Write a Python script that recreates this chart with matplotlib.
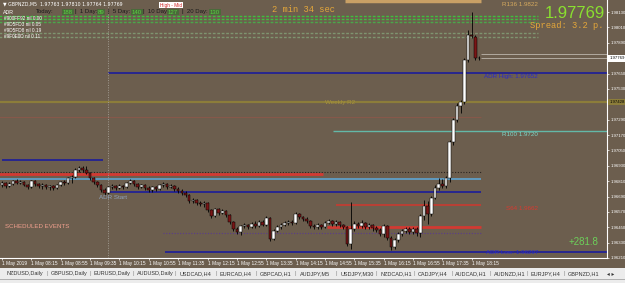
import matplotlib
matplotlib.use("Agg")
import matplotlib.pyplot as plt
import matplotlib.transforms as mtransforms
from matplotlib.patches import Rectangle

BG = '#6c5e4e'
W, H = 625, 283

# --- GBPNZD M5 candles, 1 May 2019 07:35 .. 18:25 ---
opens = [1.96781, 1.96797, 1.96773, 1.96789, 1.96812, 1.96797, 1.96804, 1.96781, 1.96765, 1.96812,
         1.96789, 1.96773, 1.96781, 1.96765, 1.96773, 1.96758, 1.96781, 1.96804, 1.96797, 1.96836,
         1.96843, 1.96898, 1.96914, 1.96898, 1.96875, 1.96836, 1.96804, 1.96781, 1.96742, 1.96718,
         1.96765, 1.96773, 1.96758, 1.96773, 1.96765, 1.96797, 1.96812, 1.96789, 1.96765, 1.96781,
         1.96758, 1.96742, 1.96765, 1.96750, 1.96781, 1.96789, 1.96765, 1.96773, 1.96750, 1.96734,
         1.96718, 1.96703, 1.96656, 1.96664, 1.96640, 1.96633, 1.96640, 1.96586, 1.96539, 1.96594,
         1.96563, 1.96578, 1.96547, 1.96492, 1.96438, 1.96414, 1.96461, 1.96469, 1.96453, 1.96477,
         1.96461, 1.96492, 1.96469, 1.96524, 1.96360, 1.96422, 1.96453, 1.96469, 1.96485, 1.96492,
         1.96485, 1.96555, 1.96531, 1.96516, 1.96500, 1.96461, 1.96453, 1.96469, 1.96453, 1.96485,
         1.96500, 1.96477, 1.96492, 1.96469, 1.96453, 1.96321, 1.96438, 1.96477, 1.96461, 1.96485,
         1.96453, 1.96469, 1.96446, 1.96430, 1.96399, 1.96461, 1.96368, 1.96297, 1.96352, 1.96399,
         1.96422, 1.96438, 1.96414, 1.96438, 1.96407, 1.96539, 1.96617, 1.96555, 1.96680, 1.96758,
         1.96789, 1.96773, 1.96836, 1.97116, 1.97288, 1.97397, 1.97428, 1.97756, 1.97951, 1.97935,
         1.97772]
highs = [1.96812, 1.96804, 1.96804, 1.96820, 1.96828, 1.96820, 1.96812, 1.96789, 1.96820, 1.96820,
         1.96797, 1.96797, 1.96789, 1.96781, 1.96781, 1.96789, 1.96812, 1.96820, 1.96843, 1.96859,
         1.96914, 1.96929, 1.96929, 1.96929, 1.96882, 1.96843, 1.96812, 1.96789, 1.96758, 1.96773,
         1.96789, 1.96781, 1.96789, 1.96781, 1.96804, 1.96828, 1.96820, 1.96797, 1.96789, 1.96789,
         1.96773, 1.96773, 1.96773, 1.96789, 1.96804, 1.96797, 1.96789, 1.96781, 1.96765, 1.96750,
         1.96734, 1.96711, 1.96680, 1.96672, 1.96656, 1.96656, 1.96648, 1.96594, 1.96602, 1.96602,
         1.96594, 1.96586, 1.96555, 1.96500, 1.96453, 1.96469, 1.96485, 1.96477, 1.96492, 1.96500,
         1.96508, 1.96508, 1.96539, 1.96531, 1.96438, 1.96469, 1.96485, 1.96500, 1.96508, 1.96508,
         1.96570, 1.96563, 1.96539, 1.96531, 1.96508, 1.96477, 1.96485, 1.96477, 1.96500, 1.96516,
         1.96508, 1.96508, 1.96500, 1.96477, 1.96461, 1.96648, 1.96500, 1.96492, 1.96508, 1.96492,
         1.96485, 1.96477, 1.96461, 1.96446, 1.96477, 1.96469, 1.96383, 1.96368, 1.96414, 1.96438,
         1.96453, 1.96453, 1.96453, 1.96453, 1.96555, 1.96664, 1.96656, 1.96695, 1.96781, 1.96836,
         1.96828, 1.96851, 1.97132, 1.97304, 1.97420, 1.97444, 1.97772, 1.97990, 1.98130, 1.97951,
         1.97787]
lows = [1.96765, 1.96758, 1.96765, 1.96781, 1.96789, 1.96789, 1.96773, 1.96750, 1.96758, 1.96773,
        1.96758, 1.96750, 1.96750, 1.96742, 1.96742, 1.96750, 1.96773, 1.96781, 1.96789, 1.96797,
        1.96836, 1.96882, 1.96882, 1.96867, 1.96820, 1.96789, 1.96765, 1.96726, 1.96703, 1.96711,
        1.96750, 1.96742, 1.96750, 1.96750, 1.96758, 1.96789, 1.96773, 1.96750, 1.96758, 1.96742,
        1.96726, 1.96726, 1.96734, 1.96742, 1.96765, 1.96750, 1.96758, 1.96734, 1.96718, 1.96703,
        1.96687, 1.96640, 1.96640, 1.96625, 1.96617, 1.96609, 1.96570, 1.96524, 1.96531, 1.96547,
        1.96555, 1.96531, 1.96477, 1.96422, 1.96399, 1.96391, 1.96446, 1.96438, 1.96446, 1.96446,
        1.96453, 1.96461, 1.96461, 1.96344, 1.96352, 1.96414, 1.96438, 1.96461, 1.96469, 1.96469,
        1.96477, 1.96516, 1.96500, 1.96485, 1.96446, 1.96438, 1.96438, 1.96438, 1.96446, 1.96477,
        1.96461, 1.96461, 1.96453, 1.96438, 1.96305, 1.96282, 1.96422, 1.96446, 1.96446, 1.96438,
        1.96438, 1.96422, 1.96414, 1.96383, 1.96375, 1.96352, 1.96274, 1.96282, 1.96336, 1.96383,
        1.96407, 1.96399, 1.96399, 1.96383, 1.96375, 1.96508, 1.96477, 1.96539, 1.96672, 1.96742,
        1.96758, 1.96758, 1.96804, 1.97093, 1.97272, 1.97343, 1.97413, 1.97740, 1.97928, 1.97756,
        1.97756]
closes = [1.96797, 1.96773, 1.96789, 1.96812, 1.96797, 1.96804, 1.96781, 1.96765, 1.96812, 1.96789,
          1.96773, 1.96781, 1.96765, 1.96773, 1.96758, 1.96781, 1.96804, 1.96797, 1.96836, 1.96843,
          1.96898, 1.96914, 1.96898, 1.96875, 1.96836, 1.96804, 1.96781, 1.96742, 1.96718, 1.96765,
          1.96773, 1.96758, 1.96773, 1.96765, 1.96797, 1.96812, 1.96789, 1.96765, 1.96781, 1.96758,
          1.96742, 1.96765, 1.96750, 1.96781, 1.96789, 1.96765, 1.96773, 1.96750, 1.96734, 1.96718,
          1.96703, 1.96656, 1.96664, 1.96640, 1.96633, 1.96640, 1.96586, 1.96539, 1.96594, 1.96563,
          1.96578, 1.96547, 1.96492, 1.96438, 1.96414, 1.96461, 1.96469, 1.96453, 1.96477, 1.96461,
          1.96492, 1.96469, 1.96524, 1.96360, 1.96422, 1.96453, 1.96469, 1.96485, 1.96492, 1.96485,
          1.96555, 1.96531, 1.96516, 1.96500, 1.96461, 1.96453, 1.96469, 1.96453, 1.96485, 1.96500,
          1.96477, 1.96492, 1.96469, 1.96453, 1.96321, 1.96438, 1.96477, 1.96461, 1.96485, 1.96453,
          1.96469, 1.96446, 1.96430, 1.96399, 1.96461, 1.96368, 1.96297, 1.96352, 1.96399, 1.96422,
          1.96438, 1.96414, 1.96438, 1.96407, 1.96539, 1.96617, 1.96555, 1.96680, 1.96758, 1.96789,
          1.96773, 1.96836, 1.97116, 1.97288, 1.97397, 1.97428, 1.97756, 1.97951, 1.97943, 1.97772,
          1.97769]

time_labels = ['1 May 2019', '1 May 08:15', '1 May 08:55', '1 May 09:35', '1 May 10:15',
               '1 May 10:55', '1 May 11:35', '1 May 12:15', '1 May 12:55', '1 May 13:35',
               '1 May 14:15', '1 May 14:55', '1 May 15:35', '1 May 16:15', '1 May 16:55',
               '1 May 17:35', '1 May 18:15']
bars_per_label = 8
price_ticks = [1.96210, 1.96330, 1.96450, 1.96570, 1.96690, 1.96810, 1.96930, 1.97050, 1.97170,
               1.97290, 1.97530, 1.97650, 1.97890, 1.98010, 1.98130]

# levels
adr_high = 1.97652
adr_start = 1.96726
adr_low = 1.96258
weekly_r2 = 1.97428
r100 = 1.97200
r136 = 1.98220
s_level = 1.96625
last_price = 1.97769
ask_price = 1.97801

adr_stats = [('Today:', '188'), ('|  1 Day:', '89'), ('|  5 Day:', '140'),
             ('|  10 Day:', '127'), ('|  20 Day:', '130')]
adr_label_x = [36, 75, 108, 143, 182]
adr_value_x = [63, 98, 132, 168, 210]

tabs = ['NZDUSD,Daily', 'GBPUSD,Daily', 'EURUSD,Daily', 'AUDUSD,Daily', 'USDCAD,H4', 'EURCAD,H4',
        'GBPCAD,H1', 'AUDJPY,M5', 'USDJPY,M30', 'NZDCAD,H1', 'CADJPY,H4', 'AUDCAD,H1',
        'AUDNZD,H1', 'EURJPY,H4', 'GBPNZD,H1']
tab_x = [25, 69, 112, 155, 196, 236, 276, 315, 357, 396, 433, 471, 510, 545, 584]

FONT = ['Liberation Sans', 'DejaVu Sans']
MONO = ['Liberation Mono', 'DejaVu Sans Mono']


def ftxt(xp, yp, s, **kw):
    kw.setdefault('family', FONT)
    kw.setdefault('va', 'center')
    fig.text(xp / W, 1 - yp / H, s, **kw)


fig = plt.figure(figsize=(6.25, 2.83), dpi=100, facecolor=BG)
ax = fig.add_axes([0, 25 / H, 607 / W, 258 / H], facecolor=BG)
n = len(closes)
right = 164.85
ax.set_xlim(-0.545, right)
ax.set_ylim(1.96212, 1.98224)

# horizontal levels
ax.hlines(adr_high, 29, right, color='#1c1c9a', lw=1.2, zorder=1)
ax.hlines(weekly_r2, -1, right, color='#8c7d3a', lw=1.6, zorder=1)
ax.hlines(1.97311, -1, n - 0.5, color='#86584a', lw=0.8, zorder=1)
ax.hlines(r100, 90.2, right, color='#63b8a8', lw=1.0, zorder=1)
ax.hlines(1.96976, 0, 27.5, color='#1c1c9a', lw=1.2, zorder=1)
ax.hlines(1.96882, -1, n - 0.5, color='#2a2420', lw=0.8, linestyles=(0, (1, 1.5)), zorder=1)
ax.hlines(1.96867, -1, 87.5, color='#d23a32', lw=2.0, zorder=1)
ax.hlines(1.96828, -1, n - 0.5, color='#5ea4d2', lw=1.2, zorder=1)
ax.hlines(adr_start, 29, n - 0.5, color='#1c1c9a', lw=1.2, zorder=1)
ax.hlines(s_level, 91, n - 0.5, color='#c83a30', lw=1.2, zorder=1)
ax.hlines(1.96453, 88.6, n - 0.5, color='#d23a32', lw=2.0, zorder=1)
ax.hlines(1.96407, 44, n - 0.5, color='#5a3c8c', lw=0.8, linestyles=(0, (1, 1.5)), zorder=1)
ax.hlines(adr_low, 44.4, right, color='#1c1c9a', lw=1.2, zorder=1)
ax.hlines(r136, 93.5, n - 0.5, color='#c9a065', lw=2.5, zorder=1)
ax.hlines([last_price, ask_price], n - 0.5, right, color='#bdb6ac', lw=0.6, zorder=1)
for lvl, c in [(1.98099, '#3fbf3f'), (1.98076, '#3fbf3f'), (1.98052, '#4aa84a'),
               (1.97967, '#7f9470'), (1.97935, '#7f9470')]:
    ax.hlines(lvl, -1, 146, color=c, lw=1.0, linestyles=(0, (2, 1.2)), zorder=1)
ax.axvline(29, color='#a09a90', lw=0.7, ls=(0, (1, 1.5)), zorder=1)

# candles
for i in range(n):
    o, h, l, c = opens[i], highs[i], lows[i], closes[i]
    ax.vlines(i, l, h, color='black', lw=0.6, zorder=3)
    bull = c >= o
    ax.bar(i, max(abs(c - o), 0.000012), bottom=min(o, c), width=0.72,
           color='white' if bull else '#7a1616', edgecolor='black', lw=0.35, zorder=4)

# axis styling
ax.yaxis.tick_right()
ax.set_yticks(price_ticks)
ax.set_yticklabels(['%.5f' % p for p in price_ticks], fontsize=3.1, color='white', family=FONT)
ax.set_xticks(range(0, n, bars_per_label))
ax.set_xticklabels(time_labels, fontsize=3.4, color='white', family=FONT, ha='left')
ax.tick_params(axis='both', colors='white', length=1.5, width=0.5, pad=1)
for s in ['left', 'top']:
    ax.spines[s].set_visible(False)
for s in ['right', 'bottom']:
    ax.spines[s].set_color('white')
    ax.spines[s].set_linewidth(0.8)

# level labels on the right
tr = mtransforms.blended_transform_factory(ax.transAxes, ax.transData)
lab_x = 538 / 607
ax.text(lab_x, r136 - 0.00030, 'R136 1.9822', transform=tr, ha='right', va='center',
        fontsize=4.5, color='#d6aa5e', family=FONT)
ax.text(lab_x, adr_high - 0.00028, 'ADR High: 1.97652', transform=tr, ha='right', va='center',
        fontsize=4.5, color='#2a2ac8', family=FONT)
ax.text(lab_x, r100 - 0.00028, 'R100 1.9720', transform=tr, ha='right', va='center',
        fontsize=4.5, color='#7fd8c8', family=FONT)
ax.text(lab_x, s_level - 0.00028, 'S64 1.9662', transform=tr, ha='right', va='center',
        fontsize=4.5, color='#d83a30', family=FONT)
ax.text(lab_x, adr_low - 0.00008, 'ADR Low: 1.96297', transform=tr, ha='right', va='center',
        fontsize=4.5, color='#2a2ac8', family=FONT)
ax.text(88, weekly_r2 - 0.00006, 'Weekly R2', ha='left', va='center', fontsize=4.5,
        color='#a8943c', family=FONT)
ax.text(26.5, adr_start - 0.00045, 'ADR Start', ha='left', va='center', fontsize=4.5,
        color='#8fa2bc', family=FONT)

# price boxes on the axis
ax.text(1.004, last_price, '%.5f' % last_price, transform=tr, ha='left', va='center',
        fontsize=3.1, color='black', family=FONT,
        bbox=dict(boxstyle='square,pad=0.3', fc='white', ec='none'))
ax.text(1.004, weekly_r2, '%.5f' % weekly_r2, transform=tr, ha='left', va='center',
        fontsize=3.1, color='black', family=FONT,
        bbox=dict(boxstyle='square,pad=0.3', fc='#8c7d3a', ec='none'))

# HUD texts
ftxt(3, 4, '\u25bc GBPNZD,M5  1.97763 1.97810 1.97764 1.97769', fontsize=3.4, color='white',
     family=['DejaVu Sans'])
ftxt(160, 5, 'High - Mid', fontsize=3.4, color='#d02020',
     bbox=dict(boxstyle='square,pad=0.2', fc='white', ec='none'))
for (lab, val), lx, vx in zip(adr_stats, adr_label_x, adr_value_x):
    ftxt(lx, 12, lab, fontsize=4.3, color='#1a1a1a')
    ftxt(vx, 12, val, fontsize=4.3, color='#58d040',
         bbox=dict(boxstyle='square,pad=0.1', fc='#4a6a3a', ec='none'))
ftxt(3, 12, 'ADR', fontsize=3.8, color='white')
for yp, s in [(18, '#900FF92 nil 0.00'), (24, '#9D5FD3 nil 0.05'),
              (30, '#9D5FD8 nil 0.19'), (36, '#9F0E0D nil 0.11')]:
    ftxt(4, yp, s, fontsize=3.4, color='white')
ftxt(272, 9, '2 min 34 sec', fontsize=6.3, color='#e3a63a', family=MONO)
ftxt(605, 14, '1.97769', fontsize=12, color='#8ae030', ha='right')
ftxt(604, 26, 'Spread: 3.2 p.', fontsize=6.3, color='#e3a63a', family=MONO, ha='right')
ftxt(5, 227, 'SCHEDULED EVENTS', fontsize=4.4, color='#f2a08e')
ftxt(598, 242, '+281.8', fontsize=7, color='#6cd05a', ha='right')

# bottom tab bar
fig.patches.append(Rectangle((0, 0), 1, 15 / H, transform=fig.transFigure,
                             fc='#ececec', ec='none'))
fig.patches.append(Rectangle((0, 3 / H), 1, 0.6 / H, transform=fig.transFigure,
                             fc='#b0b0b0', ec='none'))
for i, (xp, s) in enumerate(zip(tab_x, tabs)):
    ftxt(xp, 274, s, fontsize=4.0, color='#333333', ha='center')
    if i < len(tabs) - 1:
        ftxt((xp + tab_x[i + 1]) / 2, 274, '|', fontsize=4.0, color='#888888', ha='center')
ftxt(607, 274, '\u25c2 \u25b8', fontsize=4.0, color='#333333', ha='left', family=['DejaVu Sans'])

fig.savefig('out.png', dpi=100, facecolor=BG)
